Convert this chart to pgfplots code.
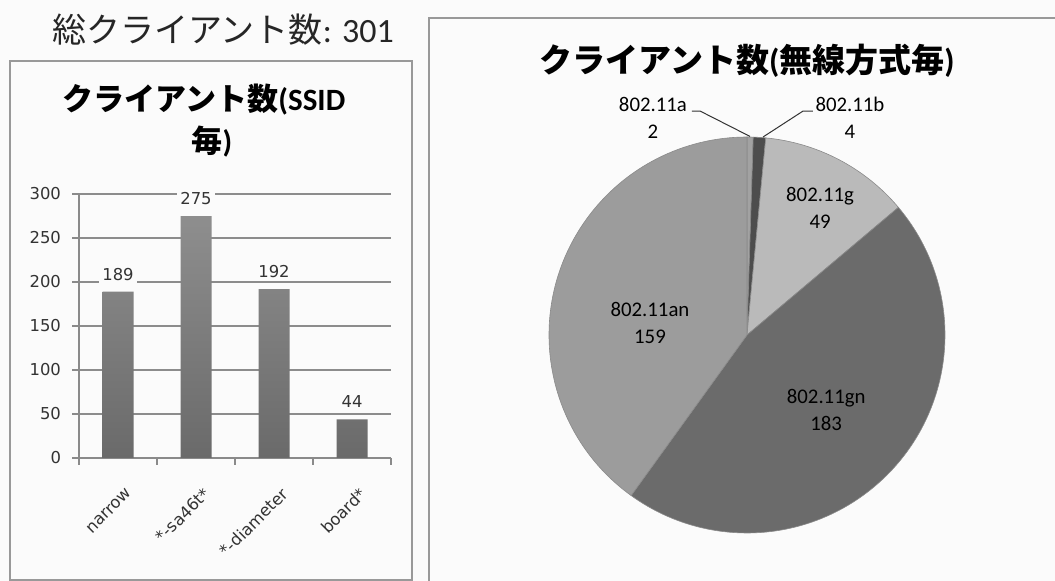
\documentclass[border=0pt]{standalone}
\usepackage{fontspec}
\setmainfont{Carlito}
\newfontfamily\cjk{Noto Sans CJK JP}
\newfontfamily\dvs{DejaVu Sans}
\usepackage{pgfplots}
\usepackage{pgfplotstable}
\pgfplotsset{compat=1.18}

\definecolor{bgcol}{HTML}{FBFBFB}
\definecolor{bordercol}{HTML}{999999}
\definecolor{gridcol}{HTML}{8C8C8C}
\definecolor{axiscol}{HTML}{8A8A8A}
\definecolor{tickcol}{HTML}{333333}
\definecolor{barTop}{HTML}{8E8E8E}
\definecolor{barBot}{HTML}{6A6A6A}
\definecolor{slice0}{HTML}{A2A2A2}
\definecolor{slice1}{HTML}{4D4D4D}
\definecolor{slice2}{HTML}{BABABA}
\definecolor{slice3}{HTML}{6B6B6B}
\definecolor{slice4}{HTML}{9C9C9C}
\definecolor{edgecol}{HTML}{8A8A8A}

\pgfplotstableread{
idx name value
0 narrow 189
1 {*-sa46t*} 275
2 {*-diameter} 192
3 {board*} 44
}\bardata

\pgfplotstableread{
name value
802.11a 2
802.11b 4
802.11g 49
802.11gn 183
802.11an 159
}\piedata

\newcommand\smallfont{\dvs\fontsize{8.2}{10}\selectfont}
\newcommand\pielabfont{\fontsize{10.4}{13.5}\selectfont}

\begin{document}
\begin{tikzpicture}
\useasboundingbox (0,0) rectangle (527.5pt,-290.5pt);
\clip (0,0) rectangle (527.5pt,-290.5pt);
\fill[bgcol] (0,0) rectangle (527.5pt,-290.5pt);

% panels
\filldraw[fill=bgcol, draw=bordercol, line width=1pt] (5pt,-30.5pt) rectangle (206pt,-290pt);
\filldraw[fill=bgcol, draw=bordercol, line width=1pt] (214.5pt,-9pt) rectangle (540pt,-300pt);

% headline
\node[text=black!85] at (111.5pt,-15pt) {\fontsize{17}{20}\selectfont{\cjk 総クライアント数}: 301};

% left title
\node at (102pt,-50pt) {\bfseries\fontsize{15.5}{18}\selectfont{\cjk\bfseries クライアント数}(SSID};
\node at (106pt,-71pt) {\bfseries\fontsize{15.5}{18}\selectfont{\cjk\bfseries 毎})};

% right title
\node at (373.5pt,-30.5pt) {\bfseries\fontsize{16.5}{19}\selectfont{\cjk\bfseries クライアント数}({\cjk\bfseries 無線方式毎})};

% bar chart
\begin{axis}[
  at={(39.5pt,-229pt)}, anchor=south west,
  scale only axis, width=156pt, height=132pt,
  xmin=-0.5, xmax=3.5, ymin=0, ymax=300,
  axis x line=bottom, axis y line=left,
  axis line style={-, draw=axiscol, line width=0.6pt},
  ytick={0,50,...,300},
  xtick={-0.5,0.5,1.5,2.5,3.5}, xticklabels={},
  extra x ticks={0,1,2,3},
  extra x tick labels={narrow,{*-sa46t*},{*-diameter},{board*}},
  extra x tick style={major tick length=0pt, grid=none,
     xticklabel style={xshift=8pt, yshift=-14pt, rotate=45, anchor=east}},
  tick align=outside, major tick length=3.5pt,
  tick style={draw=axiscol, line width=0.6pt},
  ymajorgrids, grid style={draw=gridcol, line width=0.55pt},
  ticklabel style={font=\smallfont, text=tickcol},
  yticklabel style={xshift=-2pt},
  /pgf/number format/assume math mode=true,
  clip=false,
]
\addplot[ybar, bar width=15.5pt, draw=none, top color=barTop, bottom color=barBot,
  nodes near coords,
  every node near coord/.append style={font=\smallfont, text=tickcol, fill=bgcol, inner sep=1.5pt, yshift=4pt},
] table[x=idx, y=value] {\bardata};
\end{axis}

% pie angles
\pgfmathsetmacro\tot{0}
\foreach \i in {0,...,4}{
  \pgfplotstablegetelem{\i}{value}\of\piedata
  \pgfmathsetmacro\tmp{\tot+\pgfplotsretval}
  \xdef\tot{\tmp}
}
\xdef\cum{90}
\foreach \i in {0,...,4}{
  \pgfplotstablegetelem{\i}{value}\of\piedata
  \pgfmathsetmacro\sweep{360/\tot*\pgfplotsretval}
  \pgfmathsetmacro\endang{\cum-\sweep}
  \expandafter\xdef\csname sa\i\endcsname{\cum}
  \expandafter\xdef\csname ea\i\endcsname{\endang}
  \xdef\cum{\endang}
}

\begin{axis}[
  at={(373.5pt,-167.5pt)}, anchor=center,
  scale only axis, width=198pt, height=198pt,
  xmin=-1, xmax=1, ymin=-1, ymax=1,
  hide axis, clip=false,
]
\pgfplotsinvokeforeach{0,...,4}{
  \filldraw[fill=slice#1, draw=edgecol, line width=0.3pt]
    (axis cs:0,0) -- +(\csname sa#1\endcsname:99pt)
    arc[start angle=\csname sa#1\endcsname, end angle=\csname ea#1\endcsname, radius=99pt] -- cycle;
}
\node[align=center, font=\pielabfont] at (axis cs:0.369,0.641) {802.11g\\49};
\node[align=center, font=\pielabfont] at (axis cs:0.40,-0.38) {802.11gn\\183};
\node[align=center, font=\pielabfont] at (axis cs:-0.49,0.06) {802.11an\\159};
\node[align=center, font=\pielabfont] at (axis cs:-0.475,1.096) {802.11a\\2};
\node[align=center, font=\pielabfont] at (axis cs:0.52,1.096) {802.11b\\4};
\draw[black!80, line width=0.5pt] (axis cs:-0.278,1.131) -- (axis cs:-0.237,1.131) -- (axis cs:0.015,1.003);
\draw[black!80, line width=0.5pt] (axis cs:0.081,1.0) -- (axis cs:0.283,1.131) -- (axis cs:0.333,1.131);
\end{axis}
\end{tikzpicture}
\end{document}
